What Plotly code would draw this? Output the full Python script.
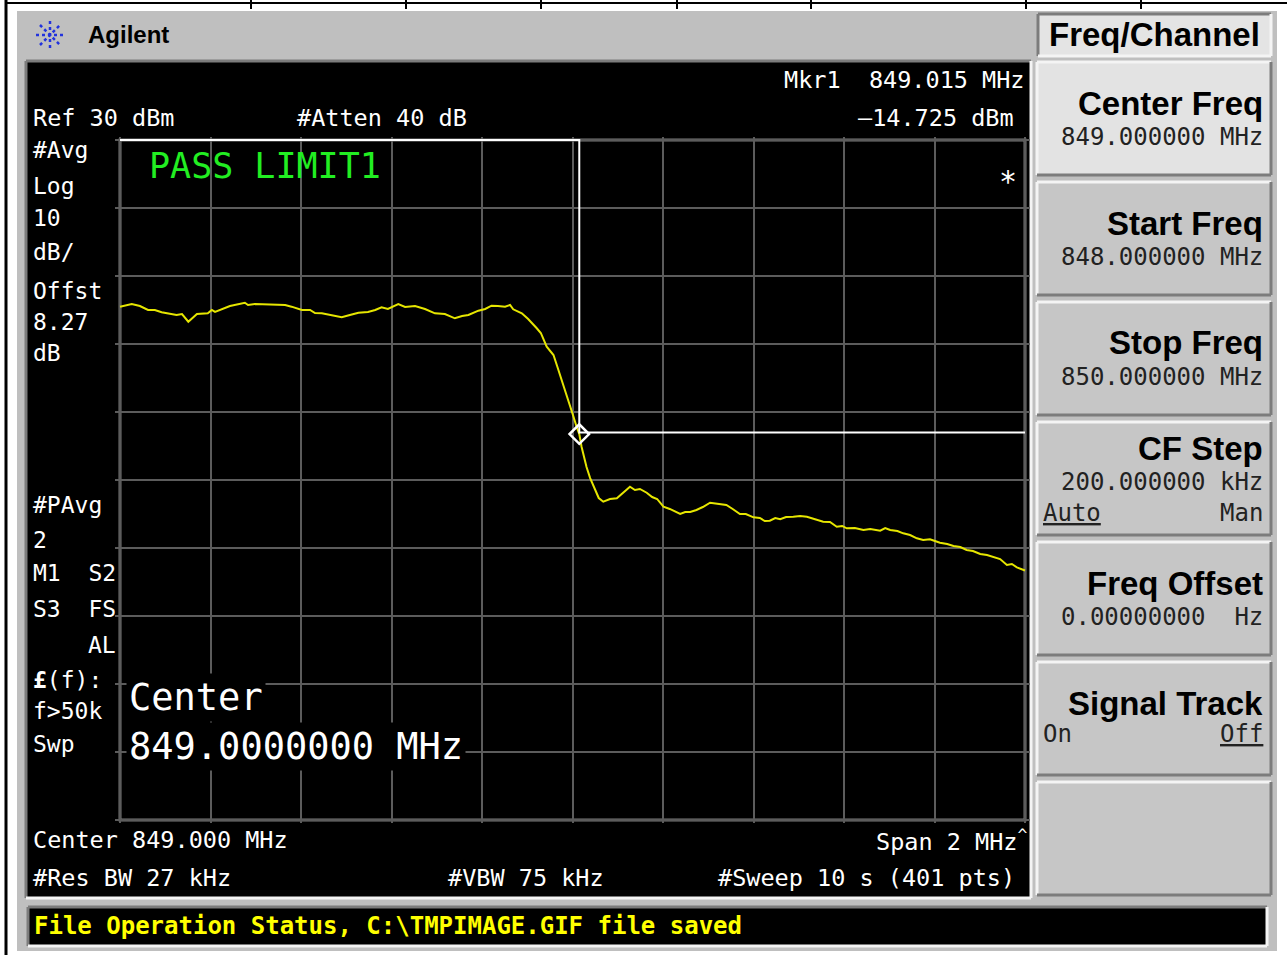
import numpy as np
import plotly.graph_objects as go

TRACE_FREQ_MHZ = [
    848.000, 848.026, 848.044, 848.062, 848.077, 848.092, 848.125, 848.137, 848.151, 848.161,
    848.170, 848.194, 848.203, 848.210, 848.225, 848.243, 848.276, 848.283, 848.298, 848.335,
    848.365, 848.379, 848.402, 848.420, 848.431, 848.446, 848.464, 848.490, 848.508, 848.527,
    848.548, 848.564, 848.578, 848.592, 848.615, 848.630, 848.652, 848.674, 848.696, 848.718,
    848.740, 848.756, 848.770, 848.792, 848.807, 848.821, 848.835, 848.851, 848.862, 848.869,
    848.888, 848.902, 848.921, 848.930, 848.943, 848.958, 848.966, 848.976, 848.986, 848.994,
    849.001, 849.009, 849.015, 849.020, 849.031, 849.039, 849.050, 849.058, 849.068, 849.083,
    849.098, 849.109, 849.118, 849.127, 849.138, 849.149, 849.164, 849.176, 849.187, 849.201,
    849.215, 849.227, 849.238, 849.249, 849.260, 849.274, 849.288, 849.304, 849.322, 849.340,
    849.354, 849.370, 849.383, 849.400, 849.414, 849.425, 849.436, 849.448, 849.459, 849.472,
    849.488, 849.503, 849.518, 849.536, 849.554, 849.569, 849.584, 849.596, 849.606, 849.624,
    849.643, 849.658, 849.680, 849.691, 849.702, 849.718, 849.731, 849.746, 849.761, 849.775,
    849.790, 849.801, 849.812, 849.828, 849.842, 849.857, 849.871, 849.885, 849.901, 849.916,
    849.930, 849.945, 849.960, 849.971, 849.982, 850.000,
]
TRACE_DBM = [
    5.49, 5.88, 5.59, 5.00, 5.00, 4.66, 4.26, 4.41, 3.28, 3.82,
    4.41, 4.51, 5.00, 4.71, 5.15, 5.59, 6.07, 5.74, 5.88, 5.78,
    5.74, 5.49, 5.00, 5.00, 4.56, 4.51, 4.26, 3.93, 4.26, 4.60,
    4.71, 5.00, 5.40, 5.15, 5.88, 5.44, 5.59, 5.15, 4.51, 4.41,
    3.78, 4.12, 4.26, 4.90, 5.15, 5.63, 5.59, 5.49, 5.74, 5.10,
    4.51, 3.68, 2.31, 1.62, -0.40, -1.62, -3.24, -5.29, -7.06, -8.72,
    -10.44, -12.16, -13.24, -15.10, -18.09, -19.71, -21.47, -22.65, -23.19, -22.79,
    -22.69, -22.06, -21.47, -20.99, -21.47, -21.32, -21.87, -22.50, -22.79, -23.93,
    -24.26, -24.71, -25.00, -24.71, -24.71, -24.41, -23.97, -23.34, -23.53, -23.68,
    -24.26, -25.00, -25.00, -25.49, -25.59, -26.03, -25.99, -25.59, -25.78, -25.44,
    -25.40, -25.29, -25.40, -25.74, -26.13, -26.18, -26.87, -26.76, -27.10, -27.06,
    -27.35, -27.21, -27.46, -27.06, -27.35, -27.50, -27.84, -28.09, -28.57, -28.82,
    -28.72, -28.97, -29.22, -29.41, -29.71, -29.85, -30.29, -30.44, -30.88, -31.03,
    -31.28, -31.62, -32.50, -32.35, -32.84, -33.31,
]

# limit line LIMIT1
LIMIT_FREQ_MHZ = [848.0, 849.015, 849.015, 850.0]
LIMIT_DBM = [30, 30, -13, -13]

# analyzer settings
START_MHZ, STOP_MHZ = 848.0, 850.0
REF_DBM, DB_PER_DIV = 30, 10
MARKER_FREQ = 849.015
MARKER_READOUT = -14.725

LEFT_LABELS = [("#Avg", 150), ("Log", 186), ("10", 218), ("dB/", 252), ("Offst", 291),
               ("8.27", 322), ("dB", 353), ("#PAvg", 505), ("2", 540), ("M1  S2", 573),
               ("S3  FS", 609), ("<b>£</b>(f):", 680), ("f>50k", 711), ("Swp", 744)]

SOFTKEYS = [("Center Freq", "849.000000 MHz"), ("Start Freq", "848.000000 MHz"),
            ("Stop Freq", "850.000000 MHz"), ("CF Step", "200.000000 kHz"),
            ("Freq Offset", "0.00000000  Hz"), ("Signal Track", ""), ("", "")]

W, H = 1287, 955
MONO = "DejaVu Sans Mono"
SANS = "Liberation Sans"


def px(x):
    return x / W


def py(y):
    return 1 - y / H


shapes = []
annots = []


def rect(x0, y0, x1, y1, fill, layer='below'):
    shapes.append(dict(type='rect', xref='paper', yref='paper', x0=px(x0), x1=px(x1),
                       y0=py(y1), y1=py(y0), fillcolor=fill, line=dict(width=0), layer=layer))


def seg(x0, y0, x1, y1, color, width=2, dash='solid', layer='below'):
    shapes.append(dict(type='line', xref='paper', yref='paper', x0=px(x0), x1=px(x1),
                       y0=py(y0), y1=py(y1), line=dict(color=color, width=width, dash=dash),
                       layer=layer))


def bevel(x0, y0, x1, y1, fill, sunken=False, w=3):
    rect(x0, y0, x1, y1, fill)
    hi, lo = ('#7C7C7C', '#F4F4F4') if sunken else ('#F4F4F4', '#7C7C7C')
    seg(x0, y0, x1, y0, hi, w)
    seg(x0, y0, x0, y1, hi, w)
    seg(x0, y1, x1, y1, lo, w)
    seg(x1, y0, x1, y1, lo, w)


def label(text, x, y, size=23, color='white', anchor='left', family=MONO, bg=None):
    annots.append(dict(text=text, x=px(x), y=py(y), xref='paper', yref='paper',
                       xanchor=anchor, yanchor='middle', showarrow=False,
                       font=dict(family=family, size=size, color=color),
                       bgcolor=bg, borderpad=2 if bg else 0))


# page frame (document table lines)
for xt in [251, 406, 541, 677, 811, 1026, 1141]:
    seg(xt, 0, xt, 9, '#000000', 2)
seg(6, 3, W, 3, '#000000', 2)
seg(6, 0, 6, H, '#000000', 3)

# instrument body
rect(17, 11, 1277, 951, '#BFBFBF')
# logo + brand
for dx, dy in [(14, 0), (0, 14), (10, 10), (10, -10)]:
    seg(50 - dx, 35 - dy, 50 + dx, 35 + dy, '#2233DD', 2.5, 'dot')
label("<b>Agilent</b>", 87, 35, 24, '#000000', family=SANS)

# display screen
bevel(26, 61, 1031, 898, '#000000', sunken=True)
# status bar
bevel(28, 907, 1267, 946, '#000000', sunken=True)
label("<b>File Operation Status, C:\\TMPIMAGE.GIF file saved</b>", 33, 926, 24, '#FFFF00')

# softkey panel
bevel(1038, 14, 1271, 56, '#E4E4E4', sunken=True)
label("<b>Freq/Channel</b>", 1154, 35, 33, '#000000', anchor='center', family=SANS)
for i, (title, value) in enumerate(SOFTKEYS):
    top = 62 + 120 * i
    bevel(1037, top, 1271, top + 113, '#E3E3E3' if i == 0 else '#C6C6C6')
    if title == "CF Step":
        label("<b>" + title + "</b>", 1264, top + 26, 33, '#000000', 'right', SANS)
        label(value, 1264, top + 60, 24, '#222222', 'right')
        label("<u>Auto</u>", 1042, top + 91, 24, '#222222')
        label("Man", 1264, top + 91, 24, '#222222', 'right')
    elif title == "Signal Track":
        label("<b>" + title + "</b>", 1264, top + 41, 33, '#000000', 'right', SANS)
        label("On", 1042, top + 72, 24, '#222222')
        label("<u>Off</u>", 1264, top + 72, 24, '#222222', 'right')
    elif title:
        label("<b>" + title + "</b>", 1264, top + 41, 33, '#000000', 'right', SANS)
        label(value, 1264, top + 75, 24, '#222222', 'right')

# screen annotations
label(f"Mkr1  {MARKER_FREQ:.3f} MHz", 1026, 80, 23.5, anchor='right')
label(f"{MARKER_READOUT:.3f} dBm".replace('-', '\u2013'), 1015, 118, 23.5, anchor='right')
label(f"Ref {REF_DBM} dBm", 32, 118, 23.5)
label("#Atten 40 dB", 296, 118, 23.5)
for txt, yy in LEFT_LABELS:
    label(txt, 32, yy, 23)
label("AL", 117, 645, 23, anchor='right')
label(f"Center {(START_MHZ + STOP_MHZ) / 2:.3f} MHz", 32, 840, 23.5)
label(f"Span {STOP_MHZ - START_MHZ:.0f} MHz<sup>^</sup>", 1028, 840, 23.5, anchor='right')
label("#Res BW 27 kHz", 32, 878, 23.5)
label("#VBW 75 kHz", 447, 878, 23.5)
label("#Sweep 10 s (401 pts)", 1016, 878, 23.5, anchor='right')
label("PASS LIMIT1", 148, 166, 35, '#22EE22')
label("*", 998, 181, 30)
label("Center", 126, 697, 37, bg='#000000')
label(f"{(START_MHZ + STOP_MHZ) / 2:.7f} MHz", 126, 746, 37, bg='#000000')

# graticule border (data coords)
BOTTOM_DBM = REF_DBM - 10 * DB_PER_DIV
shapes.append(dict(type='rect', xref='x', yref='y', x0=START_MHZ, x1=STOP_MHZ,
                   y0=BOTTOM_DBM, y1=REF_DBM, line=dict(color='#7A7A7A', width=3),
                   layer='below'))

fig = go.Figure()
fig.add_trace(go.Scatter(x=TRACE_FREQ_MHZ, y=TRACE_DBM, mode='lines',
                         line=dict(color='#E6E600', width=2), hoverinfo='skip'))
fig.add_trace(go.Scatter(x=LIMIT_FREQ_MHZ, y=LIMIT_DBM, mode='lines',
                         line=dict(color='#FFFFFF', width=2), hoverinfo='skip'))
mk_level = float(np.interp(MARKER_FREQ, TRACE_FREQ_MHZ, TRACE_DBM))
fig.add_trace(go.Scatter(x=[MARKER_FREQ], y=[mk_level], mode='markers', cliponaxis=False,
                         marker=dict(symbol='diamond-open', size=15, color='#FFFFFF',
                                     line=dict(width=2.5, color='#FFFFFF')),
                         hoverinfo='skip'))

# pad ranges a little so the border/limit sit inside the clip area
pad_f, pad_db = 0.01, 0.5
x_l, x_r = 120 - pad_f / 2 * 905, 1025 + pad_f / 2 * 905
y_t, y_b = 140 - pad_db * 6.8, 820 + pad_db * 6.8

fig.update_xaxes(range=[START_MHZ - pad_f, STOP_MHZ + pad_f], domain=[px(x_l), px(x_r)],
                 tick0=START_MHZ, dtick=(STOP_MHZ - START_MHZ) / 10, showgrid=True,
                 gridcolor='#5C5C5C', gridwidth=2, showticklabels=False, ticks='',
                 zeroline=False, showline=False, fixedrange=True)
fig.update_yaxes(range=[BOTTOM_DBM - pad_db, REF_DBM + pad_db], domain=[py(y_b), py(y_t)],
                 tick0=BOTTOM_DBM, dtick=DB_PER_DIV, showgrid=True,
                 gridcolor='#5C5C5C', gridwidth=2, showticklabels=False, ticks='',
                 zeroline=False, showline=False, fixedrange=True)

fig.update_layout(
    width=W, height=H, autosize=False,
    margin=dict(l=0, r=0, t=0, b=0, pad=0),
    paper_bgcolor='#FFFFFF', plot_bgcolor='#000000',
    showlegend=False, shapes=shapes, annotations=annots,
)

fig.write_html("out.html", config={'displayModeBar': False},
               post_script="document.body.style.margin='0';document.body.style.overflow='hidden';")
